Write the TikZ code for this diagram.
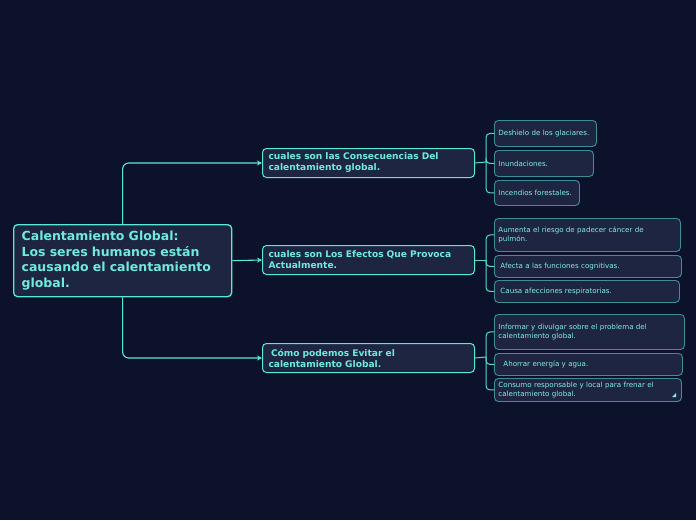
\documentclass[tikz,border=0pt]{standalone}
\usepackage{fontspec}
\setmainfont{DejaVu Sans}
\usetikzlibrary{arrows.meta,positioning}
\definecolor{BgNavy}{HTML}{0B1229}
\definecolor{BoxFill}{HTML}{1E2540}
\definecolor{CyanLine}{HTML}{5CE8D8}
\definecolor{TealLine}{HTML}{3E8E9A}
\definecolor{CyanText}{HTML}{6EEBDD}
\begin{document}
\begin{tikzpicture}[x=1pt,y=-1pt,
        rootbox/.style={draw=CyanLine,line width=1.3pt,fill=BoxFill,rounded corners=4pt,
                   anchor=north west,align=left,inner xsep=8pt,text=CyanText,
                   font=\bfseries\fontsize{12.5}{15.5}\selectfont},
        branch/.style={draw=CyanLine,line width=1pt,fill=BoxFill,rounded corners=4pt,
                   anchor=north west,align=left,inner xsep=6pt,text=CyanText,
                   text width=200pt,minimum height=29pt,
                   font=\bfseries\fontsize{9.1}{11}\selectfont},
        leaf/.style={draw=TealLine,line width=0.9pt,fill=BoxFill,rounded corners=4pt,
                   anchor=north west,align=left,inner xsep=4pt,text=CyanText!85!white,
                   font=\fontsize{7.1}{9.5}\selectfont},
        arr/.style={-{Stealth[length=5pt,width=5pt]},CyanLine,line width=1.1pt,rounded corners=6pt},
        tick/.style={CyanLine!85!TealLine,line width=1pt,rounded corners=4pt}
      ]
        \useasboundingbox[fill=BgNavy] (0,0) rectangle (696,520);
        % main topic
        \node[rootbox,text width=202pt,minimum height=72pt] (root) at (13,224)
          {Calentamiento Global:\\Los seres humanos están\\causando el calentamiento\\global.};
        % branches
        \node[branch] (c1) at (262,148) {cuales son las Consecuencias Del\\calentamiento global.};
        \node[branch] (c2) at (262,245) {cuales son Los Efectos Que Provoca\\Actualmente.};
        \node[branch] (c3) at (262,343) {\hspace{2.5pt}Cómo podemos Evitar el\\calentamiento Global.};
        \draw[arr] (root.north) |- (c1.west);
        \draw[arr] (root.east) -- (c2.west);
        \draw[arr] (root.south) |- (c3.west);
        % leaves
        \node[leaf,text width=94pt,minimum height=26pt] (l11) at (494,120) {Deshielo de los glaciares.};
        \node[leaf,text width=91pt,minimum height=26pt] (l12) at (494,150) {Inundaciones.};
        \node[leaf,text width=77pt,minimum height=25pt] (l13) at (494,180) {Incendios forestales.};
        \node[leaf,text width=178pt,minimum height=33pt] (l21) at (494,218) {Aumenta el riesgo de padecer cáncer de\\pulmón.};
        \node[leaf,text width=179pt,minimum height=22pt] (l22) at (494,255) {\hspace{2pt}Afecta a las funciones cognitivas.};
        \node[leaf,text width=177pt,minimum height=22pt] (l23) at (494,280) {\hspace{2pt}Causa afecciones respiratorias.};
        \node[leaf,text width=182pt,minimum height=35pt] (l31) at (494,314) {Informar y divulgar sobre el problema del\\calentamiento global.};
        \node[leaf,text width=180pt,minimum height=22pt] (l32) at (494,353) {\hspace{5pt}Ahorrar energía y agua.};
        \node[leaf,text width=179pt,minimum height=23pt] (l33) at (494,378) {Consumo responsable y local para frenar el\\calentamiento global.};
        \fill[CyanText!85!white] (676,393) -- (676,397) -- (672,397) -- cycle;
        % junctions
        \coordinate (j1) at (486,162);
        \coordinate (j2) at (486,260);
        \coordinate (j3) at (486,357);
        \draw[tick] (c1.east) -- (j1);
        \draw[tick] (c2.east) -- (j2);
        \draw[tick] (c3.east) -- (j3);
        \foreach \j/\a/\b/\c in {j1/l11/l12/l13,j2/l21/l22/l23,j3/l31/l32/l33}{
          \draw[tick] (\j) |- (\a.west);
          \draw[tick] (\j) |- (\b.west);
          \draw[tick] (\j) |- (\c.west);
        }
      \end{tikzpicture}
\end{document}
